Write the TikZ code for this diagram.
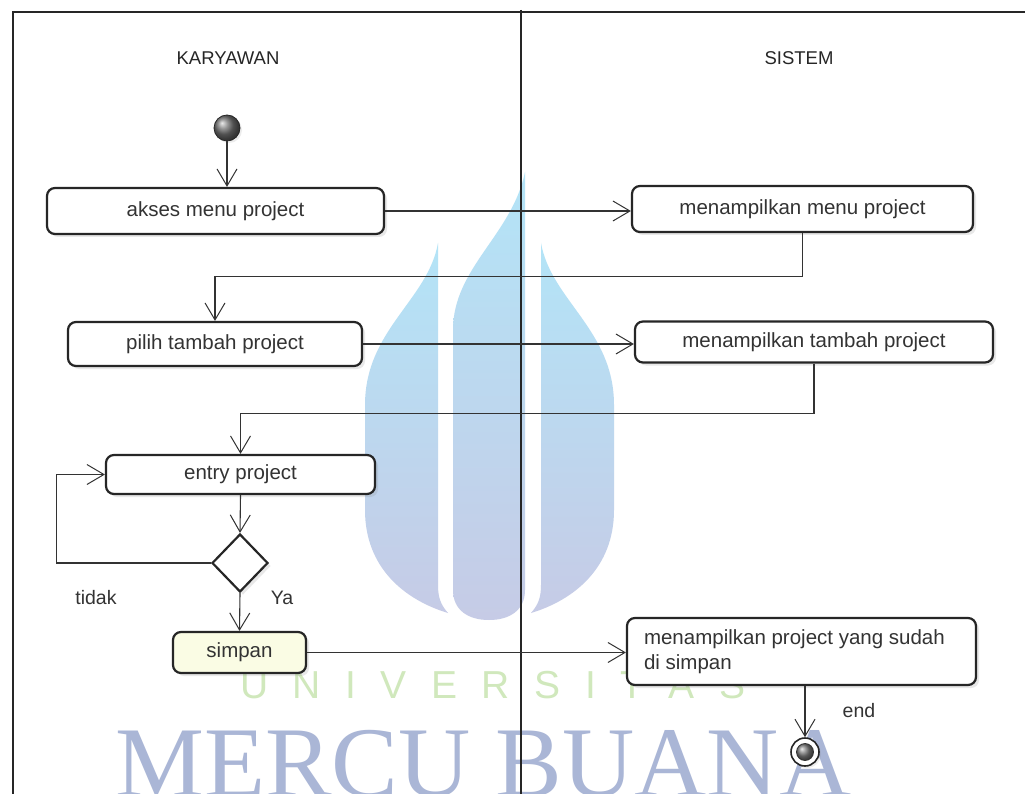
\documentclass[tikz,border=0pt]{standalone}
\usepackage{fontspec}
\setmainfont{Liberation Sans}
\newfontfamily\wmserif{Liberation Serif}
\usetikzlibrary{arrows.meta,shapes.geometric,shadows}
\definecolor{wmtop}{HTML}{B3E4F7}
\definecolor{wmmid}{HTML}{BCD7EF}
\definecolor{wmbot}{HTML}{C6CBE6}
\definecolor{wmblue}{HTML}{AAB6D6}
\definecolor{wmgreen}{HTML}{D0E8BC}
\definecolor{savefill}{HTML}{FAFCE4}
\begin{document}
\begin{tikzpicture}[x=1pt,y=-1pt,
  act/.style={draw=black!85, line width=2.2pt, rounded corners=8pt, fill=white,
    text=black!80, font=\fontsize{20.5}{25}\selectfont, inner sep=0pt,
    drop shadow={opacity=0.18, shadow xshift=3pt, shadow yshift=-3pt}},
  flow/.style={draw=black!80, line width=1.1pt,
    -{Straight Barb[length=17pt,width=20pt,line width=1pt]}},
  lane/.style={draw=black!85, line width=1.3pt},
  lbl/.style={text=black!80, font=\fontsize{19.5}{22}\selectfont, inner sep=0pt},
  hdr/.style={text=black!85, font=\fontsize{18.5}{22}\selectfont, inner sep=0pt},
  flame/.style={top color=wmtop, middle color=wmmid, bottom color=wmbot},
]
\useasboundingbox (0,0) rectangle (1025,794);
\fill[white] (0,0) rectangle (1025,794);

% watermark
\shade[flame] (438,243) .. controls (428,300) and (365,330) .. (365,405)
  -- (365,510) .. controls (365,568) and (405,600) .. (448,613)
  .. controls (441,605) and (438,598) .. (438,585) -- cycle;
\shade[flame] (541,243) .. controls (551,300) and (614,330) .. (614,405)
  -- (614,510) .. controls (614,568) and (574,600) .. (531,613)
  .. controls (538,605) and (541,598) .. (541,585) -- cycle;
\shade[flame] (525,172) -- (525,590) .. controls (525,610) and (510,620) .. (489,620)
  .. controls (468,620) and (453,610) .. (453,590) -- (453,330)
  .. controls (453,268) and (512,235) .. (525,172) -- cycle;
\node[anchor=base west, inner sep=0pt, text=wmgreen,
  font=\fontsize{39}{40}\selectfont] (wmuni) at (240,698)
  {U\hspace{24.5pt}N\hspace{24.5pt}I\hspace{24.5pt}V\hspace{24.5pt}E\hspace{24.5pt}R\hspace{24.5pt}S\hspace{24.5pt}I\hspace{24.5pt}T\hspace{24.5pt}A\hspace{24.5pt}S};
\node[anchor=base west, inner sep=0pt, text=wmblue,
  font=\wmserif\fontsize{100}{100}\selectfont] (wmname) at (115,796) {MERCU BUANA};

% swimlanes
\draw[lane] (13,794) -- (13,12) -- (1025,12);
\draw[lane] (521,10) -- (521,794);
\node[hdr] (hk) at (228,58) {KARYAWAN};
\node[hdr] (hs) at (799,58) {SISTEM};

% nodes
\node[circle, minimum size=26pt, inner sep=0pt, draw=black!85, line width=0.8pt,
  ball color=black!55, drop shadow={opacity=0.15, shadow xshift=2pt, shadow yshift=-2pt}]
  (start) at (227,128) {};
\node[act, minimum width=337pt, minimum height=46pt] (akses) at (215.5,211) {akses menu project};
\node[act, minimum width=341pt, minimum height=46pt] (menu) at (802.5,209) {menampilkan menu project};
\node[act, minimum width=294pt, minimum height=44pt] (pilih) at (215,344) {pilih tambah project};
\node[act, minimum width=358pt, minimum height=41pt] (tambah) at (814,342) {menampilkan tambah project};
\node[act, minimum width=269pt, minimum height=39pt] (entry) at (240.5,474.5) {entry project};
\node[diamond, draw=black!85, line width=2.2pt, fill=white, minimum width=56pt,
  minimum height=58pt, inner sep=0pt,
  drop shadow={opacity=0.18, shadow xshift=3pt, shadow yshift=-3pt}] (dec) at (240,563) {};
\node[act, fill=savefill, minimum width=133pt, minimum height=41pt] (simpan) at (239.5,652.5) {simpan};
\node[act, minimum width=349pt, minimum height=67pt] (shown) at (801.5,651.5)
  {\parbox{315pt}{menampilkan project yang sudah\\di simpan}};
\node[circle, minimum size=28pt, inner sep=0pt, draw=black!85, line width=1.6pt, fill=white,
  drop shadow={opacity=0.15, shadow xshift=2pt, shadow yshift=-2pt}] (end) at (805,752) {};
\node[circle, minimum size=17pt, inner sep=0pt, draw=black!80, line width=0.8pt,
  ball color=black!50] (endin) at (end.center) {};

% labels
\node[lbl] (ltidak) at (96,598) {tidak};
\node[lbl] (lya) at (282,598) {Ya};
\node[lbl] (lend) at (859,711) {end};

% connectors
\draw[flow] (start.south) -- (start.south |- akses.north);
\draw[flow] (akses.east) -- (akses.east -| menu.west);
\draw[flow] (menu.south) -- ++(0,43) -| (pilih.north);
\draw[flow] (pilih.east) -- (pilih.east -| tambah.west);
\draw[flow] (tambah.south) -- ++(0,50) -| (entry.north);
\draw[flow] (entry.south) -- (dec.north);
\draw[flow] (dec.west) -- ++(-154,0) |- (entry.west);
\draw[flow] (dec.south) -- (simpan.north);
\draw[flow] (simpan.east) -- (simpan.east -| shown.west);
\draw[flow] (end.north |- shown.south) -- (end.north);
\end{tikzpicture}
\end{document}
